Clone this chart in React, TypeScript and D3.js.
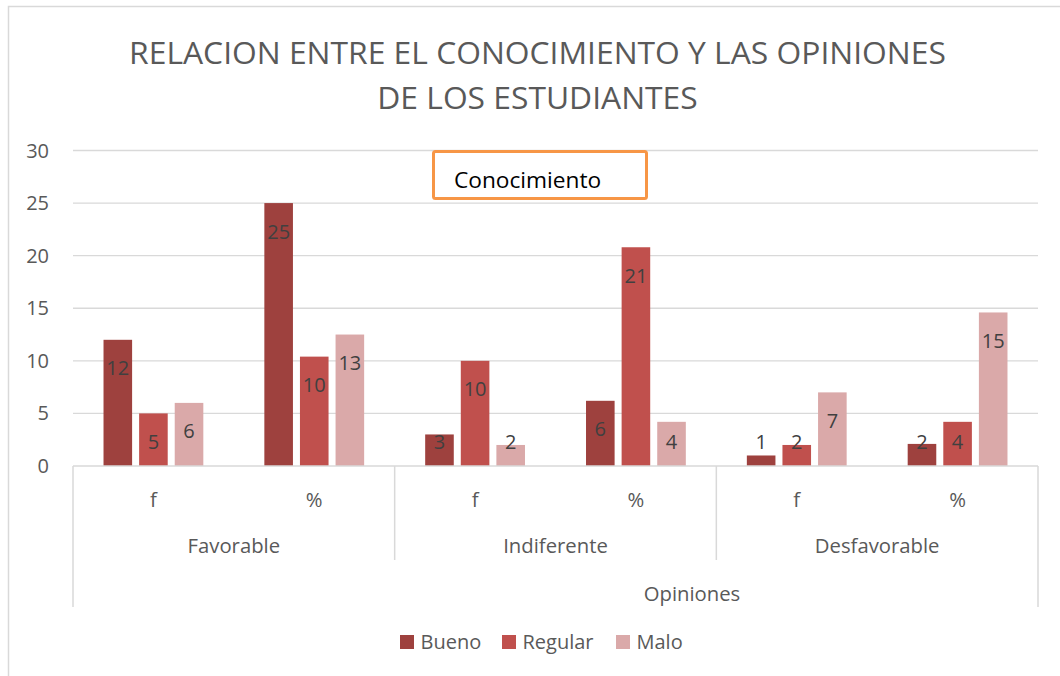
import React from "react";
import * as d3 from "d3";

const categories = ["Favorable|f", "Favorable|%", "Indiferente|f", "Indiferente|%", "Desfavorable|f", "Desfavorable|%"];
const subLabels = ["f", "%", "f", "%", "f", "%"];
const groups = ["Favorable", "Indiferente", "Desfavorable"];
const seriesNames = ["Bueno", "Regular", "Malo"];
const bueno = [12, 25, 3, 6.2, 1, 2.1];
const regular = [5, 10.4, 10, 20.8, 2, 4.2];
const malo = [6, 12.5, 2, 4.2, 7, 14.6];
const yTicks = [0, 5, 10, 15, 20, 25, 30];
const colors = ["#9E413E", "#C0504D", "#DAA9A9"];
const titleLines = ["RELACION ENTRE EL CONOCIMIENTO Y LAS OPINIONES", "DE LOS ESTUDIANTES"];

const FONT = "'Open Sans', 'Noto Sans', sans-serif";

export default function App() {
  const W = 1060, H = 676;
  const left = 73, right = 1038, top = 150.5, bottom = 466;
  const x0 = d3.scaleBand<string>().domain(categories).range([left, right]).padding(0);
  const y = d3.scaleLinear().domain([0, 30]).range([bottom, top]);
  const x1 = d3.scaleBand<string>().domain(seriesNames).range([0, x0.bandwidth()]).paddingInner(0.197).paddingOuter(0.857);
  const seriesData = [bueno, regular, malo];
  const groupW = x0.bandwidth() * 2;
  const grid = "#D9D9D9";

  return (
    <svg width={W} height={H} style={{ position: "absolute", left: 0, top: 0, background: "#fff" }} fontFamily={FONT}>
      <rect x={8.5} y={6.5} width={1080} height={700} fill="#fff" stroke={grid} strokeWidth={1.5} />
      {titleLines.map((t, i) => (
        <text key={i} x={537.5} y={63.5 + i * 45} textAnchor="middle" fontSize={31.8} fill="#595959">{t}</text>
      ))}
      {yTicks.map((t) => (
        <g key={t}>
          {t > 0 && <line x1={left} x2={right} y1={y(t)} y2={y(t)} stroke={grid} strokeWidth={1.3} />}
          <text x={49} y={y(t) + 7} textAnchor="end" fontSize={20} fill="#595959">{t}</text>
        </g>
      ))}
      {seriesData.map((vals, si) =>
        vals.map((v, ci) => {
          const bx = (x0(categories[ci]) as number) + (x1(seriesNames[si]) as number);
          const by = y(v);
          const ly = Math.min(by + 28.5, bottom - 24) + 7;
          return (
            <g key={si + "-" + ci}>
              <rect x={bx} y={by} width={x1.bandwidth()} height={bottom - by} fill={colors[si]} />
              <text x={bx + x1.bandwidth() / 2} y={ly} textAnchor="middle" fontSize={20} fill="#404040">{Math.round(v)}</text>
            </g>
          );
        })
      )}
      <line x1={left} x2={right} y1={bottom} y2={bottom} stroke={grid} strokeWidth={1.5} />
      <line x1={left} x2={left} y1={bottom} y2={607} stroke={grid} strokeWidth={1.5} />
      <line x1={right} x2={right} y1={bottom} y2={607} stroke={grid} strokeWidth={1.5} />
      {groups.slice(1).map((g, i) => {
        const gx = left + groupW * (i + 1);
        return <line key={g} x1={gx} x2={gx} y1={bottom} y2={560} stroke={grid} strokeWidth={1.5} />;
      })}
      {categories.map((c, i) => (
        <text key={c} x={(x0(c) as number) + x0.bandwidth() / 2} y={506.5} textAnchor="middle" fontSize={20.3} fill="#595959">{subLabels[i]}</text>
      ))}
      {groups.map((g, i) => (
        <text key={g} x={left + groupW * (i + 0.5)} y={553} textAnchor="middle" fontSize={20.3} fill="#595959">{g}</text>
      ))}
      <text x={692} y={601} textAnchor="middle" fontSize={20.3} fill="#595959">Opiniones</text>
      <rect x={433.5} y={151.5} width={213} height={47} rx={2} fill="#fff" stroke="#F79646" strokeWidth={3} />
      <text x={454} y={188} fontSize={22.7} fill="#000">Conocimiento</text>
      {seriesNames.map((s, i) => {
        const lx = [400, 502, 616][i];
        return (
          <g key={s}>
            <rect x={lx} y={635} width={14} height={14} fill={colors[i]} />
            <text x={lx + 20.5} y={649} fontSize={20} fill="#595959">{s}</text>
          </g>
        );
      })}
    </svg>
  );
}
